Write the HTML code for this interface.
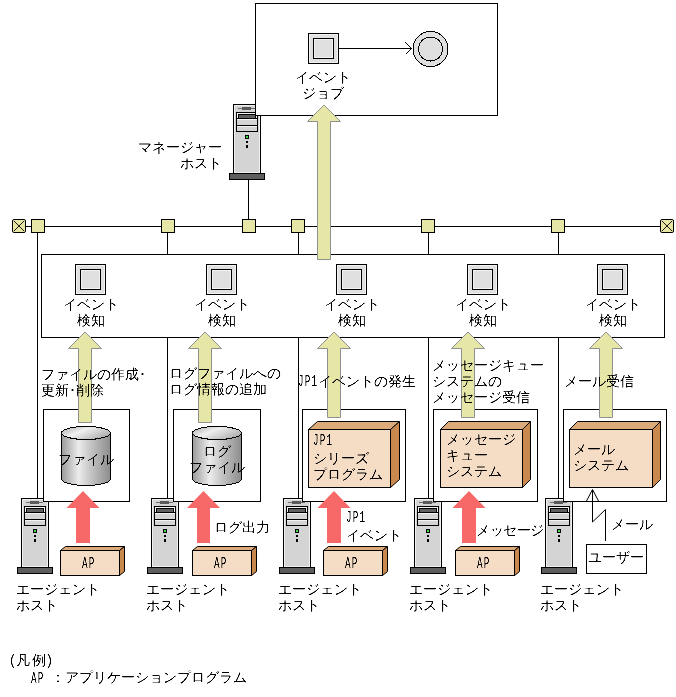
<!DOCTYPE html>
<html><head><meta charset="utf-8"><style>
html,body{margin:0;padding:0;background:#fff;}
body{width:676px;height:697px;position:relative;overflow:hidden;font-family:"Liberation Sans",sans-serif;}
svg{position:absolute;left:0;top:0;}
.t{will-change:transform;filter:url(#sharp);position:absolute;font-size:14px;line-height:16px;white-space:nowrap;color:#000;}
.c{text-align:center;}
.h{display:inline-block;font-family:"Liberation Mono",monospace;font-size:16px;line-height:16px;height:16px;vertical-align:top;}
.h span{display:inline-block;position:relative;top:-1px;letter-spacing:2px;transform:scaleX(.58);transform-origin:0 0;}
</style></head><body>
<svg width="676" height="697" viewBox="0 0 676 697">
<defs><filter id="sharp" x="-5%" y="-5%" width="110%" height="110%"><feComponentTransfer><feFuncA type="linear" slope="2" intercept="-0.5"/></feComponentTransfer></filter><linearGradient id="cg" x1="0" x2="1" y1="0" y2="0"><stop offset="0" stop-color="#9a9a9a"/><stop offset="0.35" stop-color="#ececec"/><stop offset="0.6" stop-color="#c4c4c4"/><stop offset="1" stop-color="#8c8c8c"/></linearGradient><linearGradient id="ct" x1="0" x2="1" y1="0" y2="0.6"><stop offset="0" stop-color="#a8a8a8"/><stop offset="0.45" stop-color="#f0f0f0"/><stop offset="1" stop-color="#b0b0b0"/></linearGradient></defs>
<rect x="248" y="179" width="1" height="47" fill="#000"/>
<rect x="233.5" y="104.5" width="27" height="69" fill="#d4d4d4" stroke="#000"/>
<rect x="234.5" y="105.5" width="25" height="67" fill="none" stroke="#f0f0f0"/>
<rect x="238" y="108" width="17" height="1" fill="#707070"/>
<rect x="242" y="107" width="9" height="3" fill="#5a5a5a"/>
<rect x="236.5" y="112.5" width="21" height="19" fill="#d4d4d4" stroke="#000"/>
<rect x="237.5" y="113.5" width="19" height="5" fill="none" stroke="#f4f4f4"/>
<rect x="237" y="118" width="20" height="1" fill="#000"/>
<rect x="238" y="114" width="18" height="5" fill="#000"/>
<rect x="239" y="115" width="16" height="3" fill="#606060"/>
<rect x="237" y="119" width="20" height="1" fill="#f4f4f4"/>
<rect x="237" y="125" width="20" height="1" fill="#000"/>
<rect x="237" y="126" width="20" height="1" fill="#f4f4f4"/>
<rect x="245" y="135" width="4" height="4" fill="#000"/>
<rect x="246" y="136" width="2" height="2" fill="#3ee03e"/>
<rect x="246" y="141" width="2" height="2" fill="#000"/>
<rect x="246" y="145" width="2" height="3" fill="#000"/>
<rect x="229.5" y="173.5" width="35" height="6" fill="#5e5e5e" stroke="#000"/>
<rect x="255.5" y="3.5" width="242" height="112" fill="#fff" stroke="#000"/>
<rect x="308.5" y="33.5" width="30" height="30" fill="#e0e0e0" stroke="#000"/>
<rect x="309.5" y="34.5" width="28" height="28" fill="none" stroke="#f2f2f2"/>
<rect x="313.5" y="38.5" width="20" height="20" fill="#e0e0e0" stroke="#000"/>
<rect x="314.5" y="39.5" width="18" height="18" fill="none" stroke="#f2f2f2"/>
<rect x="339" y="48" width="73" height="1" fill="#000"/>
<path d="M405 42 L411.5 48.5 L406 54" fill="none" stroke="#000"/>
<circle cx="430.5" cy="49" r="17.5" fill="#e0e0e0" stroke="#000" shape-rendering="crispEdges"/>
<circle cx="430.5" cy="49" r="12" fill="#e0e0e0" stroke="#000" shape-rendering="crispEdges"/>
<rect x="25" y="226" width="635" height="1" fill="#000"/>
<rect x="37" y="226" width="1" height="272" fill="#000"/>
<rect x="167" y="226" width="1" height="272" fill="#000"/>
<rect x="298" y="226" width="1" height="272" fill="#000"/>
<rect x="428" y="226" width="1" height="272" fill="#000"/>
<rect x="558" y="226" width="1" height="272" fill="#000"/>
<rect x="12.5" y="219.5" width="13" height="13" rx="1.5" fill="#e6e6a6" stroke="#000"/><path d="M14 221 L24 231 M24 221 L14 231" stroke="#000" stroke-width="0.9"/>
<rect x="660.5" y="219.5" width="13" height="13" rx="1.5" fill="#e6e6a6" stroke="#000"/><path d="M662 221 L672 231 M672 221 L662 231" stroke="#000" stroke-width="0.9"/>
<rect x="31.5" y="219.5" width="13" height="13" fill="#e6e6a6" stroke="#000"/>
<rect x="161.5" y="219.5" width="13" height="13" fill="#e6e6a6" stroke="#000"/>
<rect x="242.5" y="219.5" width="13" height="13" fill="#e6e6a6" stroke="#000"/>
<rect x="291.5" y="219.5" width="13" height="13" fill="#e6e6a6" stroke="#000"/>
<rect x="421.5" y="219.5" width="13" height="13" fill="#e6e6a6" stroke="#000"/>
<rect x="551.5" y="219.5" width="13" height="13" fill="#e6e6a6" stroke="#000"/>
<rect x="41.5" y="254.5" width="623" height="83" fill="#fff" stroke="#000"/>
<rect x="75.5" y="264.5" width="30" height="30" fill="#e0e0e0" stroke="#000"/>
<rect x="76.5" y="265.5" width="28" height="28" fill="none" stroke="#f2f2f2"/>
<rect x="80.5" y="269.5" width="20" height="20" fill="#e0e0e0" stroke="#000"/>
<rect x="81.5" y="270.5" width="18" height="18" fill="none" stroke="#f2f2f2"/>
<rect x="206.5" y="264.5" width="30" height="30" fill="#e0e0e0" stroke="#000"/>
<rect x="207.5" y="265.5" width="28" height="28" fill="none" stroke="#f2f2f2"/>
<rect x="211.5" y="269.5" width="20" height="20" fill="#e0e0e0" stroke="#000"/>
<rect x="212.5" y="270.5" width="18" height="18" fill="none" stroke="#f2f2f2"/>
<rect x="336.5" y="264.5" width="30" height="30" fill="#e0e0e0" stroke="#000"/>
<rect x="337.5" y="265.5" width="28" height="28" fill="none" stroke="#f2f2f2"/>
<rect x="341.5" y="269.5" width="20" height="20" fill="#e0e0e0" stroke="#000"/>
<rect x="342.5" y="270.5" width="18" height="18" fill="none" stroke="#f2f2f2"/>
<rect x="467.5" y="264.5" width="30" height="30" fill="#e0e0e0" stroke="#000"/>
<rect x="468.5" y="265.5" width="28" height="28" fill="none" stroke="#f2f2f2"/>
<rect x="472.5" y="269.5" width="20" height="20" fill="#e0e0e0" stroke="#000"/>
<rect x="473.5" y="270.5" width="18" height="18" fill="none" stroke="#f2f2f2"/>
<rect x="597.5" y="264.5" width="30" height="30" fill="#e0e0e0" stroke="#000"/>
<rect x="598.5" y="265.5" width="28" height="28" fill="none" stroke="#f2f2f2"/>
<rect x="602.5" y="269.5" width="20" height="20" fill="#e0e0e0" stroke="#000"/>
<rect x="603.5" y="270.5" width="18" height="18" fill="none" stroke="#f2f2f2"/>
<path d="M324 105 L340.5 121.5 H330.5 V259.5 H317.5 V121.5 H307.5 Z" fill="#e6e6a6" stroke="#909090" stroke-width="1"/>
<rect x="21.5" y="498.5" width="27" height="69" fill="#d4d4d4" stroke="#000"/>
<rect x="22.5" y="499.5" width="25" height="67" fill="none" stroke="#f0f0f0"/>
<rect x="26" y="502" width="17" height="1" fill="#707070"/>
<rect x="30" y="501" width="9" height="3" fill="#5a5a5a"/>
<rect x="24.5" y="506.5" width="21" height="19" fill="#d4d4d4" stroke="#000"/>
<rect x="25.5" y="507.5" width="19" height="5" fill="none" stroke="#f4f4f4"/>
<rect x="25" y="512" width="20" height="1" fill="#000"/>
<rect x="26" y="508" width="18" height="5" fill="#000"/>
<rect x="27" y="509" width="16" height="3" fill="#606060"/>
<rect x="25" y="513" width="20" height="1" fill="#f4f4f4"/>
<rect x="25" y="519" width="20" height="1" fill="#000"/>
<rect x="25" y="520" width="20" height="1" fill="#f4f4f4"/>
<rect x="33" y="529" width="4" height="4" fill="#000"/>
<rect x="34" y="530" width="2" height="2" fill="#3ee03e"/>
<rect x="34" y="535" width="2" height="2" fill="#000"/>
<rect x="34" y="539" width="2" height="3" fill="#000"/>
<rect x="17.5" y="567.5" width="35" height="6" fill="#5e5e5e" stroke="#000"/>
<rect x="151.5" y="498.5" width="27" height="69" fill="#d4d4d4" stroke="#000"/>
<rect x="152.5" y="499.5" width="25" height="67" fill="none" stroke="#f0f0f0"/>
<rect x="156" y="502" width="17" height="1" fill="#707070"/>
<rect x="160" y="501" width="9" height="3" fill="#5a5a5a"/>
<rect x="154.5" y="506.5" width="21" height="19" fill="#d4d4d4" stroke="#000"/>
<rect x="155.5" y="507.5" width="19" height="5" fill="none" stroke="#f4f4f4"/>
<rect x="155" y="512" width="20" height="1" fill="#000"/>
<rect x="156" y="508" width="18" height="5" fill="#000"/>
<rect x="157" y="509" width="16" height="3" fill="#606060"/>
<rect x="155" y="513" width="20" height="1" fill="#f4f4f4"/>
<rect x="155" y="519" width="20" height="1" fill="#000"/>
<rect x="155" y="520" width="20" height="1" fill="#f4f4f4"/>
<rect x="163" y="529" width="4" height="4" fill="#000"/>
<rect x="164" y="530" width="2" height="2" fill="#3ee03e"/>
<rect x="164" y="535" width="2" height="2" fill="#000"/>
<rect x="164" y="539" width="2" height="3" fill="#000"/>
<rect x="147.5" y="567.5" width="35" height="6" fill="#5e5e5e" stroke="#000"/>
<rect x="283.5" y="498.5" width="27" height="69" fill="#d4d4d4" stroke="#000"/>
<rect x="284.5" y="499.5" width="25" height="67" fill="none" stroke="#f0f0f0"/>
<rect x="288" y="502" width="17" height="1" fill="#707070"/>
<rect x="292" y="501" width="9" height="3" fill="#5a5a5a"/>
<rect x="286.5" y="506.5" width="21" height="19" fill="#d4d4d4" stroke="#000"/>
<rect x="287.5" y="507.5" width="19" height="5" fill="none" stroke="#f4f4f4"/>
<rect x="287" y="512" width="20" height="1" fill="#000"/>
<rect x="288" y="508" width="18" height="5" fill="#000"/>
<rect x="289" y="509" width="16" height="3" fill="#606060"/>
<rect x="287" y="513" width="20" height="1" fill="#f4f4f4"/>
<rect x="287" y="519" width="20" height="1" fill="#000"/>
<rect x="287" y="520" width="20" height="1" fill="#f4f4f4"/>
<rect x="295" y="529" width="4" height="4" fill="#000"/>
<rect x="296" y="530" width="2" height="2" fill="#3ee03e"/>
<rect x="296" y="535" width="2" height="2" fill="#000"/>
<rect x="296" y="539" width="2" height="3" fill="#000"/>
<rect x="279.5" y="567.5" width="35" height="6" fill="#5e5e5e" stroke="#000"/>
<rect x="414.5" y="498.5" width="27" height="69" fill="#d4d4d4" stroke="#000"/>
<rect x="415.5" y="499.5" width="25" height="67" fill="none" stroke="#f0f0f0"/>
<rect x="419" y="502" width="17" height="1" fill="#707070"/>
<rect x="423" y="501" width="9" height="3" fill="#5a5a5a"/>
<rect x="417.5" y="506.5" width="21" height="19" fill="#d4d4d4" stroke="#000"/>
<rect x="418.5" y="507.5" width="19" height="5" fill="none" stroke="#f4f4f4"/>
<rect x="418" y="512" width="20" height="1" fill="#000"/>
<rect x="419" y="508" width="18" height="5" fill="#000"/>
<rect x="420" y="509" width="16" height="3" fill="#606060"/>
<rect x="418" y="513" width="20" height="1" fill="#f4f4f4"/>
<rect x="418" y="519" width="20" height="1" fill="#000"/>
<rect x="418" y="520" width="20" height="1" fill="#f4f4f4"/>
<rect x="426" y="529" width="4" height="4" fill="#000"/>
<rect x="427" y="530" width="2" height="2" fill="#3ee03e"/>
<rect x="427" y="535" width="2" height="2" fill="#000"/>
<rect x="427" y="539" width="2" height="3" fill="#000"/>
<rect x="410.5" y="567.5" width="35" height="6" fill="#5e5e5e" stroke="#000"/>
<rect x="545.5" y="498.5" width="27" height="69" fill="#d4d4d4" stroke="#000"/>
<rect x="546.5" y="499.5" width="25" height="67" fill="none" stroke="#f0f0f0"/>
<rect x="550" y="502" width="17" height="1" fill="#707070"/>
<rect x="554" y="501" width="9" height="3" fill="#5a5a5a"/>
<rect x="548.5" y="506.5" width="21" height="19" fill="#d4d4d4" stroke="#000"/>
<rect x="549.5" y="507.5" width="19" height="5" fill="none" stroke="#f4f4f4"/>
<rect x="549" y="512" width="20" height="1" fill="#000"/>
<rect x="550" y="508" width="18" height="5" fill="#000"/>
<rect x="551" y="509" width="16" height="3" fill="#606060"/>
<rect x="549" y="513" width="20" height="1" fill="#f4f4f4"/>
<rect x="549" y="519" width="20" height="1" fill="#000"/>
<rect x="549" y="520" width="20" height="1" fill="#f4f4f4"/>
<rect x="557" y="529" width="4" height="4" fill="#000"/>
<rect x="558" y="530" width="2" height="2" fill="#3ee03e"/>
<rect x="558" y="535" width="2" height="2" fill="#000"/>
<rect x="558" y="539" width="2" height="3" fill="#000"/>
<rect x="541.5" y="567.5" width="35" height="6" fill="#5e5e5e" stroke="#000"/>
<rect x="43.5" y="409.5" width="86" height="92" fill="#fff" stroke="#000"/>
<rect x="173.5" y="409.5" width="87" height="92" fill="#fff" stroke="#000"/>
<rect x="302.5" y="409.5" width="103" height="92" fill="#fff" stroke="#000"/>
<rect x="433.5" y="409.5" width="104" height="92" fill="#fff" stroke="#000"/>
<rect x="563.5" y="409.5" width="103" height="92" fill="#fff" stroke="#000"/>
<path d="M85 332 L101.5 348.5 H91.5 V422.5 H78.5 V348.5 H68.5 Z" fill="#e6e6a6" stroke="#909090" stroke-width="1"/>
<path d="M205 332 L221.5 348.5 H211.5 V422.5 H198.5 V348.5 H188.5 Z" fill="#e6e6a6" stroke="#909090" stroke-width="1"/>
<path d="M334 332 L350.5 348.5 H340.5 V417.5 H327.5 V348.5 H317.5 Z" fill="#e6e6a6" stroke="#909090" stroke-width="1"/>
<path d="M468 332 L484.5 348.5 H474.5 V417.5 H461.5 V348.5 H451.5 Z" fill="#e6e6a6" stroke="#909090" stroke-width="1"/>
<path d="M606 332 L622.5 348.5 H612.5 V417.5 H599.5 V348.5 H589.5 Z" fill="#e6e6a6" stroke="#909090" stroke-width="1"/>
<path d="M61.5 433.0 V479.0 A24.5 6.5 0 0 0 110.5 479.0 V433.0 Z" fill="url(#cg)" stroke="#000" shape-rendering="crispEdges"/>
<ellipse cx="86.0" cy="433.0" rx="24.5" ry="6.5" fill="url(#ct)" stroke="#000" shape-rendering="crispEdges"/>
<path d="M192.5 433.0 V479.0 A24.5 6.5 0 0 0 241.5 479.0 V433.0 Z" fill="url(#cg)" stroke="#000" shape-rendering="crispEdges"/>
<ellipse cx="217.0" cy="433.0" rx="24.5" ry="6.5" fill="url(#ct)" stroke="#000" shape-rendering="crispEdges"/>
<path d="M308.5 429.5 L317.5 421.5 H399.5 L390.5 429.5 Z" fill="#dcaa78" stroke="#000"/>
<path d="M390.5 429.5 L399.5 421.5 V479.5 L390.5 487.5 Z" fill="#c8884e" stroke="#000"/>
<rect x="308.5" y="429.5" width="82.0" height="58.0" fill="#f5dcc4" stroke="#000"/>
<path d="M440.5 429.5 L448.5 421.5 H530.5 L522.5 429.5 Z" fill="#dcaa78" stroke="#000"/>
<path d="M522.5 429.5 L530.5 421.5 V479.5 L522.5 487.5 Z" fill="#c8884e" stroke="#000"/>
<rect x="440.5" y="429.5" width="82.0" height="58.0" fill="#f5dcc4" stroke="#000"/>
<path d="M569.5 429.5 L577.5 421.5 H660.5 L652.5 429.5 Z" fill="#dcaa78" stroke="#000"/>
<path d="M652.5 429.5 L660.5 421.5 V479.5 L652.5 487.5 Z" fill="#c8884e" stroke="#000"/>
<rect x="569.5" y="429.5" width="83.0" height="58.0" fill="#f5dcc4" stroke="#000"/>
<path d="M83 491 L99.5 508 H90 V543 H76 V508 H66.5 Z" fill="#f76868"/>
<path d="M203.5 491 L220.0 508 H210.0 V543 H197.0 V508 H187.0 Z" fill="#f76868"/>
<path d="M334 491 L350.5 508 H341 V543 H327 V508 H317.5 Z" fill="#f76868"/>
<path d="M469 491 L485.5 508 H476 V543 H462 V508 H452.5 Z" fill="#f76868"/>
<path d="M60.5 550.5 L65.5 546.5 H124.5 L119.5 550.5 Z" fill="#dcaa78" stroke="#000"/>
<path d="M119.5 550.5 L124.5 546.5 V571.5 L119.5 575.5 Z" fill="#c8884e" stroke="#000"/>
<rect x="60.5" y="550.5" width="59.0" height="25.0" fill="#f5dcc4" stroke="#000"/>
<path d="M192.5 550.5 L197.5 546.5 H256.5 L251.5 550.5 Z" fill="#dcaa78" stroke="#000"/>
<path d="M251.5 550.5 L256.5 546.5 V571.5 L251.5 575.5 Z" fill="#c8884e" stroke="#000"/>
<rect x="192.5" y="550.5" width="59.0" height="25.0" fill="#f5dcc4" stroke="#000"/>
<path d="M323.5 550.5 L328.5 546.5 H387.5 L382.5 550.5 Z" fill="#dcaa78" stroke="#000"/>
<path d="M382.5 550.5 L387.5 546.5 V571.5 L382.5 575.5 Z" fill="#c8884e" stroke="#000"/>
<rect x="323.5" y="550.5" width="59.0" height="25.0" fill="#f5dcc4" stroke="#000"/>
<path d="M455.5 550.5 L460.5 546.5 H519.5 L514.5 550.5 Z" fill="#dcaa78" stroke="#000"/>
<path d="M514.5 550.5 L519.5 546.5 V571.5 L514.5 575.5 Z" fill="#c8884e" stroke="#000"/>
<rect x="455.5" y="550.5" width="59.0" height="25.0" fill="#f5dcc4" stroke="#000"/>
<path d="M592.5 490 V522 L605.5 509.5 V541" fill="none" stroke="#000"/>
<path d="M586.5 501 L592.5 489.5 L598.5 501" fill="none" stroke="#000"/>
<rect x="586.5" y="544.5" width="60" height="29" fill="#fff" stroke="#000"/>
</svg>
<div class="t c" style="left:263.0px;top:69px;width:120px">イベント<br>ジョブ</div>
<div class="t" style="left:100px;top:139px;width:122px;text-align:right">マネージャー<br>ホスト</div>
<div class="t c" style="left:30.5px;top:296px;width:120px">イベント<br>検知</div>
<div class="t c" style="left:161.5px;top:296px;width:120px">イベント<br>検知</div>
<div class="t c" style="left:291.5px;top:296px;width:120px">イベント<br>検知</div>
<div class="t c" style="left:422.5px;top:296px;width:120px">イベント<br>検知</div>
<div class="t c" style="left:552.5px;top:296px;width:120px">イベント<br>検知</div>
<div class="t" style="left:41px;top:366px;">ファイルの作成･<br>更新･削除</div>
<div class="t" style="left:169px;top:365px;">ログファイルへの<br>ログ情報の追加</div>
<div class="t" style="left:298px;top:373px;"><span class="h" style="width:20.1px"><span style=";top:1px">JP1</span></span>イベントの発生</div>
<div class="t" style="left:432px;top:357px;">メッセージキュー<br>システムの<br>メッセージ受信</div>
<div class="t" style="left:564px;top:373px;">メール受信</div>
<div class="t c" style="left:26.0px;top:451px;width:120px">ファイル</div>
<div class="t c" style="left:157.0px;top:443px;width:120px">ログ<br>ファイル</div>
<div class="t" style="left:313px;top:434px;"><span class="h" style="width:20.1px"><span style="">JP1</span></span><br>シリーズ<br>プログラム</div>
<div class="t" style="left:446px;top:431px;">メッセージ<br>キュー<br>システム</div>
<div class="t" style="left:573px;top:441px;">メール<br>システム</div>
<div class="t" style="left:16px;top:581px;">エージェント<br>ホスト</div>
<div class="t" style="left:146px;top:581px;">エージェント<br>ホスト</div>
<div class="t" style="left:278px;top:581px;">エージェント<br>ホスト</div>
<div class="t" style="left:409px;top:581px;">エージェント<br>ホスト</div>
<div class="t" style="left:540px;top:581px;">エージェント<br>ホスト</div>
<div class="t" style="left:82px;top:557px;"><span class="h" style="width:13.4px"><span style="">AP</span></span></div>
<div class="t" style="left:214px;top:557px;"><span class="h" style="width:13.4px"><span style="">AP</span></span></div>
<div class="t" style="left:345px;top:557px;"><span class="h" style="width:13.4px"><span style="">AP</span></span></div>
<div class="t" style="left:477px;top:557px;"><span class="h" style="width:13.4px"><span style="">AP</span></span></div>
<div class="t" style="left:214px;top:519px;">ログ出力</div>
<div class="t" style="left:346px;top:511px;"><span class="h" style="width:20.1px"><span style="">JP1</span></span><br>イベント</div>
<div class="t" style="left:476px;top:522px;letter-spacing:-0.4px">メッセージ</div>
<div class="t" style="left:611px;top:516px;">メール</div>
<div class="t" style="left:588px;top:549px;">ユーザー</div>
<div class="t" style="left:10px;top:652px;letter-spacing:1.5px">(凡例)</div>
<div class="t" style="left:31px;top:672px;"><span class="h" style="width:13.4px"><span style="">AP</span></span></div>
<div class="t" style="left:51px;top:669px;">：アプリケーションプログラム</div>
</body></html>
